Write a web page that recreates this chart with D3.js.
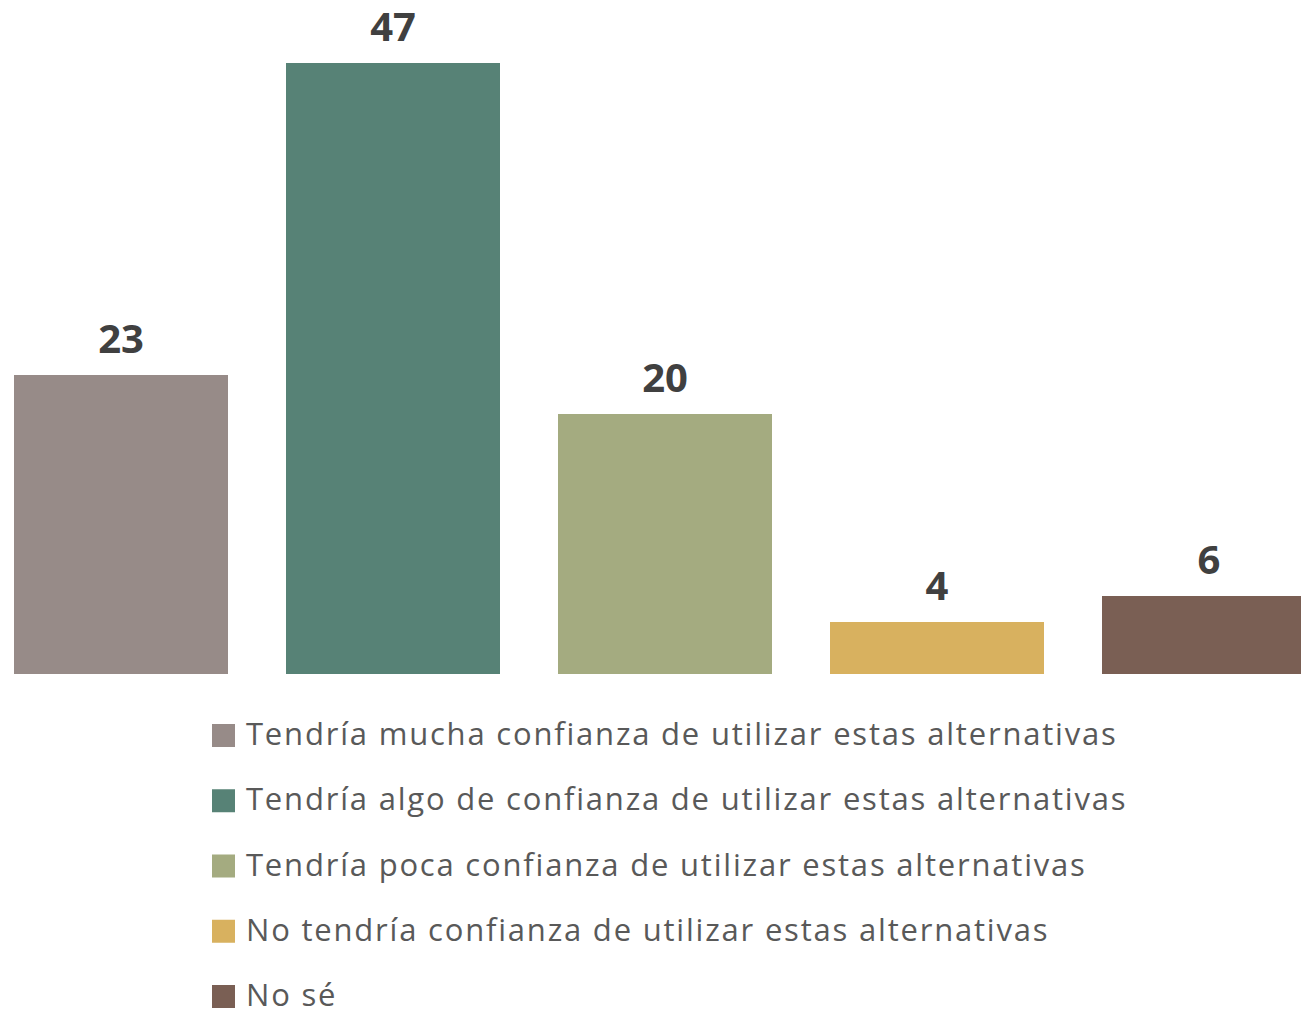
<!DOCTYPE html>
<html><head><meta charset="utf-8">
<script src="https://cdn.jsdelivr.net/npm/d3@7"></script>
<style>body{margin:0;background:#fff}svg{display:block}</style>
</head><body>
<script>
const categories = [
  "Tendría mucha confianza de utilizar estas alternativas",
  "Tendría algo de confianza de utilizar estas alternativas",
  "Tendría poca confianza de utilizar estas alternativas",
  "No tendría confianza de utilizar estas alternativas",
  "No sé"
];
const values = [23, 47, 20, 4, 6];
const colors = ["#978B88", "#578276", "#A4AB80", "#D8B15F", "#7A5F54"];

const W = 1301, H = 1010;
const svg = d3.select("body").append("svg").attr("width", W).attr("height", H);

const x = d3.scaleBand().domain(d3.range(categories.length))
  .range([-15, 1345]).paddingInner(58/272).paddingOuter(29/272);
const y = d3.scaleLinear().domain([0, 47]).range([674, 63]);

svg.selectAll("rect.bar").data(values).join("rect")
  .attr("class", "bar")
  .attr("x", (d, i) => x(i)).attr("width", x.bandwidth())
  .attr("y", d => y(d)).attr("height", d => y(0) - y(d))
  .attr("fill", (d, i) => colors[i]);

svg.selectAll("text.lbl").data(values).join("text")
  .attr("class", "lbl")
  .attr("x", (d, i) => x(i) + x.bandwidth() / 2)
  .attr("y", d => y(d) - 22)
  .attr("text-anchor", "middle")
  .attr("font-family", "'Open Sans', sans-serif")
  .attr("font-weight", "bold").attr("font-size", 40)
  .attr("fill", "#404040")
  .text(d => d);

const lg = svg.append("g");
const rows = lg.selectAll("g").data(categories).join("g")
  .attr("transform", (d, i) => `translate(212, ${724 + i * 65.25})`);
rows.append("rect").attr("width", 23).attr("height", 23)
  .attr("fill", (d, i) => colors[i]);
rows.append("text").attr("x", 34).attr("y", 21)
  .attr("font-family", "'Open Sans', sans-serif").attr("font-size", 31)
  .attr("letter-spacing", "1.8px")
  .attr("fill", "#595959")
  .text(d => d);
</script>
</body></html>
